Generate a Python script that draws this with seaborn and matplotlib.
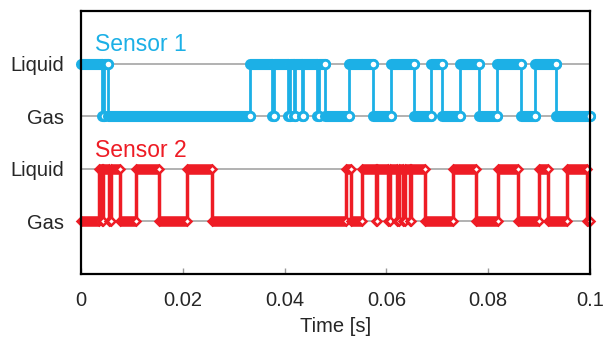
import matplotlib
matplotlib.use("Agg")
import matplotlib.pyplot as plt
import pandas as pd
import seaborn as sns

# ---------------- data ----------------
time_end = 0.1

# Sensor 1: times at which each run starts, and the phase of that run
s1_switch_times = [0.0, 0.00403, 0.00452, 0.00530, 0.0332, 0.0375, 0.0379,
                   0.0407, 0.0411, 0.0419, 0.0421, 0.0434, 0.0437, 0.0463,
                   0.0467, 0.0479, 0.0527, 0.0574, 0.0609, 0.0654, 0.0688,
                   0.0709, 0.0745, 0.0782, 0.0817, 0.0864, 0.0892, 0.0933]
s1_states = ["Liquid", "Gas", "Liquid", "Gas", "Liquid", "Gas", "Liquid",
             "Gas", "Liquid", "Gas", "Liquid", "Gas", "Liquid", "Gas",
             "Liquid", "Gas", "Liquid", "Gas", "Liquid", "Gas", "Liquid",
             "Gas", "Liquid", "Gas", "Liquid", "Gas", "Liquid", "Gas"]

# Sensor 2
s2_switch_times = [0.0, 0.00344, 0.00403, 0.00442, 0.00550, 0.00589, 0.00776,
                   0.0109, 0.01532, 0.02092, 0.02574, 0.05206, 0.05295,
                   0.05521, 0.05796, 0.05825, 0.06041, 0.06071, 0.06208,
                   0.06238, 0.06326, 0.06356, 0.06464, 0.06493, 0.06749,
                   0.07308, 0.0776, 0.08193, 0.08585, 0.08998, 0.09175,
                   0.09548, 0.0995]
s2_states = ["Gas", "Liquid", "Gas", "Liquid", "Gas", "Liquid", "Gas",
             "Liquid", "Gas", "Liquid", "Gas", "Liquid", "Gas",
             "Liquid", "Gas", "Liquid", "Gas", "Liquid", "Gas",
             "Liquid", "Gas", "Liquid", "Gas", "Liquid", "Gas",
             "Liquid", "Gas", "Liquid", "Gas", "Liquid", "Gas",
             "Liquid", "Gas"]

sensor_names = ["Sensor 1", "Sensor 2"]
y_tick_labels = ["Gas", "Liquid", "Gas", "Liquid"]
x_ticks = [0, 0.02, 0.04, 0.06, 0.08, 0.1]
x_tick_labels = ["0", "0.02", "0.04", "0.06", "0.08", "0.1"]
x_label = "Time [s]"

# ---------------- style ----------------
blue = "#1cb0e6"
red = "#ee1c25"
colors = {"Sensor 1": blue, "Sensor 2": red}
thin_lw = {"Sensor 1": 2.0, "Sensor 2": 2.5}
levels = {"Sensor 1": {"Liquid": 4, "Gas": 3},
          "Sensor 2": {"Liquid": 2, "Gas": 1}}

sns.set_style("white")
plt.rcParams["font.family"] = ["Liberation Sans", "DejaVu Sans"]

fig = plt.figure(figsize=(6.05, 3.41), dpi=100)
ax = fig.add_axes([81 / 605, 1 - 274 / 341, (590 - 81) / 605, (274 - 11) / 341])

series = [("Sensor 1", s1_switch_times, s1_states),
          ("Sensor 2", s2_switch_times, s2_states)]

# thin step lines (transitions)
for name, times, states in series:
    rows = [{"t": t, "y": levels[name][s]} for t, s in zip(times, states)]
    rows.append({"t": time_end, "y": levels[name][states[-1]]})
    df = pd.DataFrame(rows)
    sns.lineplot(data=df, x="t", y="y", estimator=None, sort=False,
                 color=colors[name], drawstyle="steps-post",
                 lw=thin_lw[name], ax=ax, zorder=2)

# thick runs with end markers (overlapping-marker look)
for name, times, states in series:
    c = colors[name]
    ends = list(times[1:]) + [time_end]
    for t0, t1, s in zip(times, ends, states):
        y = levels[name][s]
        if name == "Sensor 1":
            ax.plot([t0, t1], [y, y], color=c, lw=8.0, solid_capstyle="round",
                    clip_on=False, zorder=3)
            ax.plot([t1], [y], marker="o", ms=6.0, mfc="white", mec=c,
                    mew=2.0, clip_on=False, zorder=3, ls="none")
        else:
            ax.plot([t0, t1], [y, y], color=c, lw=7.6, solid_capstyle="butt",
                    clip_on=False, zorder=3)
            ax.plot([t0], [y], marker="D", ms=4.2, mfc=c, mec=c,
                    mew=1.8, clip_on=False, zorder=3, ls="none")
            ax.plot([t1], [y], marker="D", ms=4.2, mfc="white", mec=c,
                    mew=1.8, clip_on=False, zorder=3, ls="none")

# axes formatting
ax.set_xlim(0, 0.1)
ax.set_ylim(0, 5)
ax.set_xticks(x_ticks)
ax.set_xticklabels(x_tick_labels)
ax.set_yticks([1, 2, 3, 4])
ax.set_yticklabels(y_tick_labels)
ax.set_xlabel(x_label, fontsize=14.5, labelpad=5)
ax.set_ylabel("")
ax.tick_params(axis="x", direction="in", length=4, width=1, color="#9a9a9a",
               pad=12, labelsize=14.5, bottom=True)
ax.tick_params(axis="y", length=0, pad=12, labelsize=14.5)
ax.set_axisbelow(True)
ax.yaxis.grid(True, color="#ababab", lw=1.3)
ax.xaxis.grid(False)
for sp in ax.spines.values():
    sp.set_visible(True)
    sp.set_color("black")
    sp.set_linewidth(1.6)
    sp.set_zorder(5)

ax.text(0.0027, 4.24, sensor_names[0], color=blue, fontsize=16.5,
        va="baseline", ha="left", zorder=6)
ax.text(0.0027, 2.23, sensor_names[1], color=red, fontsize=16.5,
        va="baseline", ha="left", zorder=6)

fig.savefig("out.png", dpi=100)
